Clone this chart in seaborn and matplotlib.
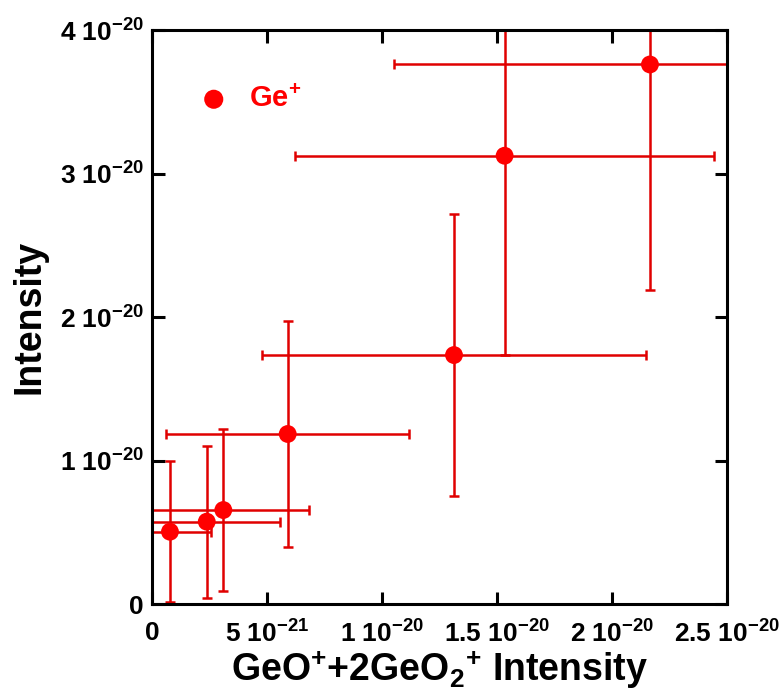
import matplotlib
matplotlib.use("Agg")
import matplotlib.pyplot as plt
import seaborn as sns
import pandas as pd
from matplotlib.ticker import FixedLocator, FixedFormatter

# ---- data (units of 1e-20) ----
x_vals = [0.078, 0.238, 0.31, 0.59, 1.313, 1.533, 2.165]
y_vals = [0.504, 0.574, 0.655, 1.185, 1.735, 3.124, 3.76]
x_err = [0.177, 0.319, 0.373, 0.529, 0.833, 0.912, 1.115]
y_err = [0.49, 0.53, 0.565, 0.79, 0.98, 1.39, 1.57]

x_ticks = [0, 0.5, 1.0, 1.5, 2.0, 2.5]
x_ticklabels = ["0", r"5 10$^{-21}$", r"1 10$^{-20}$", r"1.5 10$^{-20}$", r"2 10$^{-20}$", r"2.5 10$^{-20}$"]
y_ticks = [0, 1, 2, 3, 4]
y_ticklabels = ["0", r"1 10$^{-20}$", r"2 10$^{-20}$", r"3 10$^{-20}$", r"4 10$^{-20}$"]

series_label = r"Ge$^{+}$"
x_label = r"GeO$^{+}$+2GeO$_{2}$$^{+}$ Intensity"
y_label = "Intensity"

sns.set_style("white")
plt.rcParams["font.family"] = ["Liberation Sans", "DejaVu Sans"]
plt.rcParams["font.weight"] = "bold"
plt.rcParams["mathtext.fontset"] = "custom"
plt.rcParams["mathtext.rm"] = "Liberation Sans:bold"
plt.rcParams["mathtext.it"] = "Liberation Sans:bold"
plt.rcParams["mathtext.bf"] = "Liberation Sans:bold"
plt.rcParams["mathtext.default"] = "rm"
for k in ["text.color", "axes.labelcolor", "xtick.color", "ytick.color", "axes.edgecolor"]:
    plt.rcParams[k] = "black"

df = pd.DataFrame({"x": x_vals, "y": y_vals})

fig = plt.figure(figsize=(7.84, 7.0), dpi=100)
ax = fig.add_axes([0.1939, 0.1371, 0.7334, 0.82])

ax.errorbar(x_vals, y_vals, xerr=x_err, yerr=y_err, fmt="none",
            ecolor="#e00000", elinewidth=1.8, capsize=3.6, capthick=1.8, zorder=2)
sns.scatterplot(data=df, x="x", y="y", ax=ax, color="#ff0000", s=165,
                edgecolor="none", label=series_label, zorder=3)

ax.set_xlim(0, 2.5)
ax.set_ylim(0, 4)

ax.xaxis.set_major_locator(FixedLocator(x_ticks))
ax.xaxis.set_major_formatter(FixedFormatter(x_ticklabels))
ax.yaxis.set_major_locator(FixedLocator(y_ticks))
ax.yaxis.set_major_formatter(FixedFormatter(y_ticklabels))

ax.tick_params(axis="both", which="major", direction="in", length=9, width=2.2,
               top=True, right=True, bottom=True, left=True,
               labelsize=19, color="black", labelcolor="black")
ax.tick_params(axis="x", pad=12)
ax.tick_params(axis="y", pad=6)
for lbl in ax.get_xticklabels() + ax.get_yticklabels():
    lbl.set_fontweight("bold")

for sp in ax.spines.values():
    sp.set_linewidth(2.2)
    sp.set_color("black")
    sp.set_visible(True)

ax.set_xlabel(x_label, fontsize=27, fontweight="bold", labelpad=0, color="black")
ax.set_ylabel(y_label, fontsize=27, fontweight="bold", labelpad=9, color="black")

leg = ax.legend(loc="center left", bbox_to_anchor=(0.082, 0.88), frameon=False,
                handlelength=1.0, handletextpad=0.7, borderpad=0, borderaxespad=0,
                markerscale=1.07, prop={"size": 21, "weight": "bold"}, labelcolor="#ff0000")

fig.savefig("out.png", dpi=100)
